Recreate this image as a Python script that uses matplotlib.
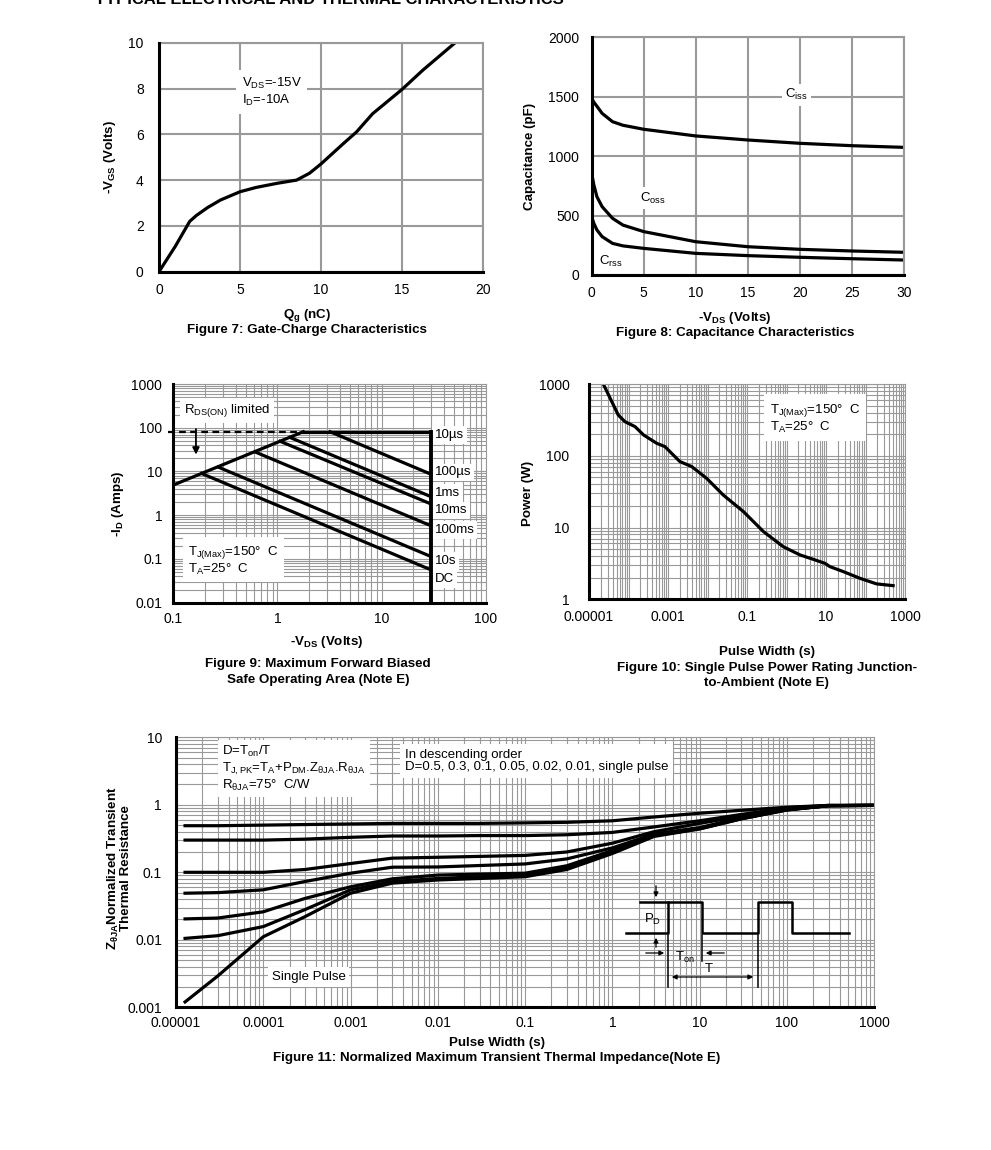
import numpy as np
import matplotlib
matplotlib.use("Agg")
import matplotlib.pyplot as plt
from matplotlib.ticker import FixedLocator, FixedFormatter, LogLocator, NullFormatter

plt.rcParams["font.family"] = ["Liberation Sans", "DejaVu Sans"]
plt.rcParams["mathtext.default"] = "regular"

# ---- Figure 7: gate charge
QG = [0, 1.0, 1.9, 2.3, 3.0, 3.8, 5.0, 6.0, 7.3, 8.5, 9.3, 10.0, 11.4, 12.2, 13.2, 15.0, 16.3, 18.3]
VGS = [0, 1.1, 2.2, 2.45, 2.8, 3.13, 3.49, 3.68, 3.86, 4.0, 4.3, 4.7, 5.6, 6.1, 6.9, 7.95, 8.8, 10.0]

# ---- Figure 8: capacitance
VDS_C = [0, 0.2, 0.5, 1, 2, 3, 5, 10, 15, 20, 25, 30]
CISS = [1486, 1455, 1420, 1360, 1290, 1260, 1226, 1170, 1136, 1108, 1088, 1074]
COSS = [855, 760, 659, 575, 477, 420, 365, 280, 238, 216, 202, 191]
CRSS = [491, 435, 379, 323, 266, 245, 224, 182, 163, 149, 137, 126]

# ---- Figure 9: safe operating area
RDS_V = [0.1, 1.77]
RDS_I = [4.9, 81]
ILIM_V = [1.77, 30]
ILIM_I = [81, 81]
DC_V = [30, 30]
DC_I = [81, 0.01]
SOA_LABELS = ["10\u00b5s", "100\u00b5s", "1ms", "10ms", "100ms", "10s", "DC"]
SOA_LABEL_I = [68, 9.5, 3.2, 1.3, 0.46, 0.09, 0.035]
SOA_START_V = [3.2, 1.32, 1.06, 0.61, 0.27, 0.187]
SOA_START_I = [81, 60, 49, 28, 12.6, 9.0]
SOA_END_V = [30, 30, 30, 30, 30, 30]
SOA_END_I = [8.6, 2.64, 1.8, 0.57, 0.113, 0.056]

# ---- Figure 10: single pulse power
PW = [2.3e-5, 5.5e-5, 8.1e-5, 1.46e-4, 2.4e-4, 5.2e-4, 8.4e-4, 1.12e-3, 2.0e-3, 4.0e-3,
      9.5e-3, 0.025, 0.081, 0.26, 0.83, 2.2, 4.8, 9.4, 12.6, 27.5, 72.6, 190, 500]
PWR = [1000, 370, 299, 255, 195, 149, 134, 114, 83, 70.6,
       48.5, 28.4, 16.7, 8.8, 5.4, 4.15, 3.6, 3.17, 2.85, 2.43, 1.96, 1.64, 1.55]

# ---- Figure 11: transient thermal impedance
TP = [1.27e-5, 3e-5, 1e-4, 3e-4, 1e-3, 3e-3, 1e-2, 3e-2, 0.1, 0.3, 1, 3, 10, 30, 100, 300, 1000]
Z_D05 = [0.49, 0.49, 0.50, 0.51, 0.52, 0.53, 0.53, 0.53, 0.54, 0.55, 0.58, 0.66, 0.75, 0.83, 0.92, 0.98, 0.98]
Z_D03 = [0.30, 0.30, 0.30, 0.31, 0.33, 0.345, 0.345, 0.35, 0.35, 0.36, 0.39, 0.47, 0.58, 0.72, 0.90, 0.98, 0.98]
Z_D01 = [0.10, 0.10, 0.10, 0.11, 0.135, 0.162, 0.167, 0.172, 0.178, 0.20, 0.27, 0.40, 0.53, 0.68, 0.87, 0.97, 0.98]
Z_D005 = [0.049, 0.050, 0.055, 0.073, 0.097, 0.119, 0.12, 0.126, 0.133, 0.158, 0.23, 0.37, 0.46, 0.64, 0.85, 0.97, 0.98]
Z_D002 = [0.0204, 0.021, 0.026, 0.041, 0.061, 0.08, 0.091, 0.094, 0.097, 0.125, 0.21, 0.36, 0.45, 0.63, 0.85, 0.97, 0.98]
Z_D001 = [0.0105, 0.0115, 0.0157, 0.028, 0.055, 0.073, 0.081, 0.086, 0.091, 0.118, 0.20, 0.35, 0.44, 0.62, 0.84, 0.97, 0.98]
Z_SINGLE = [0.0012, 0.0029, 0.0111, 0.022, 0.049, 0.069, 0.077, 0.081, 0.086, 0.11, 0.19, 0.34, 0.44, 0.62, 0.84, 0.97, 0.98]

# pulse sketch (inset units)
PULSE_X = [9, 51, 51, 85, 85, 141, 141, 175, 175, 232]
PULSE_Y = [64, 64, 95, 95, 64, 64, 95, 95, 64, 64]

W, H = 991, 1150
GRID = "#999999"
CURVE_LW = 2.3
TICK_FS = 10
NOTE_FS = 9.5
BOLD_FS = 9.6


def box(l, t, r, b):
    return [l / W, 1 - b / H, (r - l) / W, (b - t) / H]


def ftext(x, y, s, **kw):
    kw.setdefault("ha", "center")
    kw.setdefault("va", "center")
    kw.setdefault("fontsize", BOLD_FS)
    kw.setdefault("fontweight", "bold")
    fig.text(x / W, 1 - y / H, s, **kw)


def style(ax, grid_lw, log=False):
    for s in ["top", "right"]:
        ax.spines[s].set_color(GRID)
        ax.spines[s].set_linewidth(grid_lw)
    for s in ["left", "bottom"]:
        ax.spines[s].set_color("black")
        ax.spines[s].set_linewidth(2.2)
        ax.spines[s].set_zorder(5)
    ax.set_axisbelow(True)
    ax.tick_params(which="both", length=0, labelsize=TICK_FS)
    if log:
        ax.grid(True, which="both", color=GRID, lw=grid_lw)
    else:
        ax.grid(True, which="major", color=GRID, lw=grid_lw)


def log_axis(axis, labels, major):
    axis.set_major_locator(FixedLocator(major))
    axis.set_major_formatter(FixedFormatter(labels))
    axis.set_minor_locator(LogLocator(base=10, subs=np.arange(2, 10), numticks=100))
    axis.set_minor_formatter(NullFormatter())


def white(pad):
    return dict(boxstyle=f"square,pad={pad}", fc="white", ec="none")


fig = plt.figure(figsize=(W / 100, H / 100), dpi=100)

fig.text(95 / W, 1 - 4 / H, "TYPICAL ELECTRICAL AND THERMAL CHARACTERISTICS",
         fontsize=12, fontweight="bold", ha="left", va="baseline")

# ---------------- Figure 7
ax7 = fig.add_axes(box(159, 42.7, 482.7, 271.7))
style(ax7, 1.5)
ax7.plot(QG, VGS, color="black", lw=CURVE_LW)
ax7.set_xlim(0, 20)
ax7.set_ylim(0, 10)
ax7.set_xticks([0, 5, 10, 15, 20])
ax7.set_yticks([0, 2, 4, 6, 8, 10])
ax7.tick_params(axis="y", pad=11)
ax7.tick_params(axis="x", pad=8)
ax7.text(5.1, 7.85, "$V_{DS}$=-15V\n$I_D$=-10A", fontsize=NOTE_FS, va="center", ha="left",
         linespacing=1.1, bbox=white(0.45))
ftext(110, 156.7, "-$V_{GS}$ (Volts)", rotation=90)
ftext(306.7, 315, "$Q_g$ (nC)")
ftext(306.7, 330, "Figure 7: Gate-Charge Characteristics")

# ---------------- Figure 8
ax8 = fig.add_axes(box(591.7, 37.3, 904, 275))
style(ax8, 1.5)
ax8.plot(VDS_C, CISS, color="black", lw=CURVE_LW)
ax8.plot(VDS_C, COSS, color="black", lw=CURVE_LW)
ax8.plot(VDS_C, CRSS, color="black", lw=CURVE_LW)
ax8.set_xlim(0, 30)
ax8.set_ylim(0, 2000)
ax8.set_xticks([0, 5, 10, 15, 20, 25, 30])
ax8.set_yticks([0, 500, 1000, 1500, 2000])
ax8.tick_params(axis="y", pad=9)
ax8.tick_params(axis="x", pad=8)
ax8.text(19.7, 1515, "$C_{iss}$", fontsize=NOTE_FS, ha="center", va="center", bbox=white(0.25))
ax8.text(5.9, 645, "$C_{oss}$", fontsize=NOTE_FS, ha="center", va="center", bbox=white(0.25))
ax8.text(1.8, 110, "$C_{rss}$", fontsize=NOTE_FS, ha="center", va="center", bbox=white(0.25))
ftext(530, 156.7, "Capacitance (pF)", rotation=90)
ftext(735, 318.3, "-$V_{DS}$ (Volts)")
ftext(735, 333.3, "Figure 8: Capacitance Characteristics")

# ---------------- Figure 9
ax9 = fig.add_axes(box(173.3, 384, 485.7, 602.7))
ax9.set_xscale("log")
ax9.set_yscale("log")
style(ax9, 0.8, log=True)
ax9.set_xlim(0.1, 100)
ax9.set_ylim(0.01, 1000)
log_axis(ax9.xaxis, ["0.1", "1", "10", "100"], [0.1, 1, 10, 100])
log_axis(ax9.yaxis, ["0.01", "0.1", "1", "10", "100", "1000"],
         [0.01, 0.1, 1, 10, 100, 1000])
ax9.tick_params(axis="y", pad=8)
ax9.tick_params(axis="x", pad=7)
ax9.plot(RDS_V, RDS_I, color="black", lw=CURVE_LW)
ax9.plot(ILIM_V, ILIM_I, color="black", lw=CURVE_LW)
ax9.plot(DC_V, DC_I, color="black", lw=CURVE_LW + 0.5, clip_on=False, zorder=6)
for v0, i0, v1, i1 in zip(SOA_START_V, SOA_START_I, SOA_END_V, SOA_END_I):
    ax9.plot([v0, v1], [i0, i1], color="black", lw=CURVE_LW)
ax9.plot([0.088, 1.77], [81, 81], color="black", lw=1.6, ls=(0, (3, 2)), clip_on=False)
ax9.annotate("", xy=(0.165, 21), xytext=(0.165, 108),
             arrowprops=dict(arrowstyle="-|>", color="black", lw=1.3, mutation_scale=10))
for lab, iy in zip(SOA_LABELS, SOA_LABEL_I):
    ax9.text(32.5, iy, lab, fontsize=NOTE_FS, ha="left", va="center", bbox=white(0.2))
ax9.text(0.127, 250, "$R_{DS(ON)}$ limited", fontsize=NOTE_FS, ha="left", va="center",
         bbox=white(0.3))
ax9.text(0.139, 0.092, "$T_{J(Max)}$=150\u00b0  C\n$T_A$=25\u00b0  C", fontsize=NOTE_FS,
         ha="left", va="center", linespacing=1.05, bbox=white(0.4))
ftext(118.3, 503.3, "-$I_D$ (Amps)", rotation=90)
ftext(326.7, 641.7, "-$V_{DS}$ (Volts)")
ftext(318, 664.3, "Figure 9: Maximum Forward Biased")
ftext(318, 680, "Safe Operating Area (Note E)")

# ---------------- Figure 10
ax10 = fig.add_axes(box(589, 384, 905, 599.3))
ax10.set_xscale("log")
ax10.set_yscale("log")
style(ax10, 0.8, log=True)
ax10.set_xlim(1e-5, 1000)
ax10.set_ylim(1, 1000)
log_axis(ax10.xaxis, ["0.00001", "0.001", "0.1", "10", "1000"],
         [1e-5, 1e-3, 1e-1, 10, 1000])
ax10.xaxis.set_minor_locator(FixedLocator(
    [m * 10.0 ** e for e in range(-5, 3) for m in range(1, 10)] + [1000]))
log_axis(ax10.yaxis, ["1", "10", "100", "1000"], [1, 10, 100, 1000])
ax10.tick_params(axis="y", pad=14)
ax10.tick_params(axis="x", pad=8)
ax10.plot(PW, PWR, color="black", lw=CURVE_LW)
ax10.text(0.38, 330, "$T_{J(Max)}$=150\u00b0  C\n$T_A$=25\u00b0  C", fontsize=NOTE_FS,
          ha="left", va="center", linespacing=1.05, bbox=white(0.45))
ftext(528, 493.3, "Power (W)", rotation=90)
ftext(766.7, 651.7, "Pulse Width (s)")
ftext(766.7, 668.3, "Figure 10: Single Pulse Power Rating Junction-")
ftext(766.7, 683.3, "to-Ambient (Note E)")

# ---------------- Figure 11
ax11 = fig.add_axes(box(176, 737.3, 874.3, 1007.3))
ax11.set_xscale("log")
ax11.set_yscale("log")
style(ax11, 0.8, log=True)
ax11.set_xlim(1e-5, 1000)
ax11.set_ylim(0.001, 10)
log_axis(ax11.xaxis,
         ["0.00001", "0.0001", "0.001", "0.01", "0.1", "1", "10", "100", "1000"],
         [1e-5, 1e-4, 1e-3, 1e-2, 1e-1, 1, 10, 100, 1000])
log_axis(ax11.yaxis, ["0.001", "0.01", "0.1", "1", "10"],
         [0.001, 0.01, 0.1, 1, 10])
ax11.tick_params(axis="y", pad=10)
ax11.tick_params(axis="x", pad=6)
for z in [Z_D05, Z_D03, Z_D01, Z_D005, Z_D002, Z_D001, Z_SINGLE]:
    ax11.plot(TP, z, color="black", lw=CURVE_LW)
ax11.text(0.066, 0.884, "D=$T_{on}$/T\n$T_{J,PK}$=$T_A$+$P_{DM}$.$Z_{\u03b8JA}$.$R_{\u03b8JA}$\n"
          "$R_{\u03b8JA}$=75\u00b0  C/W", transform=ax11.transAxes, fontsize=NOTE_FS,
          ha="left", va="center", linespacing=1.1, bbox=white(0.3))
ax11.text(0.328, 0.912, "In descending order\nD=0.5, 0.3, 0.1, 0.05, 0.02, 0.01, single pulse",
          transform=ax11.transAxes, fontsize=NOTE_FS, ha="left", va="center", linespacing=1.05,
          bbox=white(0.35))
ax11.text(0.00033, 0.0028, "Single Pulse", fontsize=NOTE_FS, ha="center", va="center",
          bbox=white(0.3))
ftext(119, 868, "$Z_{\u03b8JA}$Normalized Transient\nThermal Resistance", rotation=90,
      linespacing=0.9)
ftext(497, 1043.3, "Pulse Width (s)")
ftext(497, 1058.3, "Figure 11: Normalized Maximum Transient Thermal Impedance(Note E)")

# pulse sketch inset
ins = fig.add_axes(box(617, 883, 858, 997))
ins.set_xlim(0, 241)
ins.set_ylim(0, 114)
ins.axis("off")
ins.patch.set_visible(True)
ins.patch.set_facecolor("white")
ins.plot(PULSE_X, PULSE_Y, color="black", lw=1.8)
ins.plot([23, 51], [95, 95], color="black", lw=1.8)
for xv, ylo in [(51, 10), (85, 36), (141, 10)]:
    ins.plot([xv, xv], [62, ylo], color="black", lw=1.1)
arr = dict(arrowstyle="-|>", color="black", lw=0.9, mutation_scale=7)
ins.annotate("", xy=(39, 97), xytext=(39, 114), arrowprops=arr)
ins.annotate("", xy=(39, 62), xytext=(39, 47), arrowprops=arr)
ins.annotate("", xy=(50, 44), xytext=(26, 44), arrowprops=arr)
ins.annotate("", xy=(86, 44), xytext=(110, 44), arrowprops=arr)
ins.annotate("", xy=(52, 20), xytext=(139, 20),
             arrowprops=dict(arrowstyle="<|-|>", color="black", lw=0.9, mutation_scale=7))
ins.text(36, 78, "$P_D$", fontsize=NOTE_FS, ha="center", va="center")
ins.text(68, 40, "$T_{on}$", fontsize=NOTE_FS, ha="center", va="center")
ins.text(92, 28, "T", fontsize=NOTE_FS, ha="center", va="center")

fig.savefig("out.png", dpi=100)
